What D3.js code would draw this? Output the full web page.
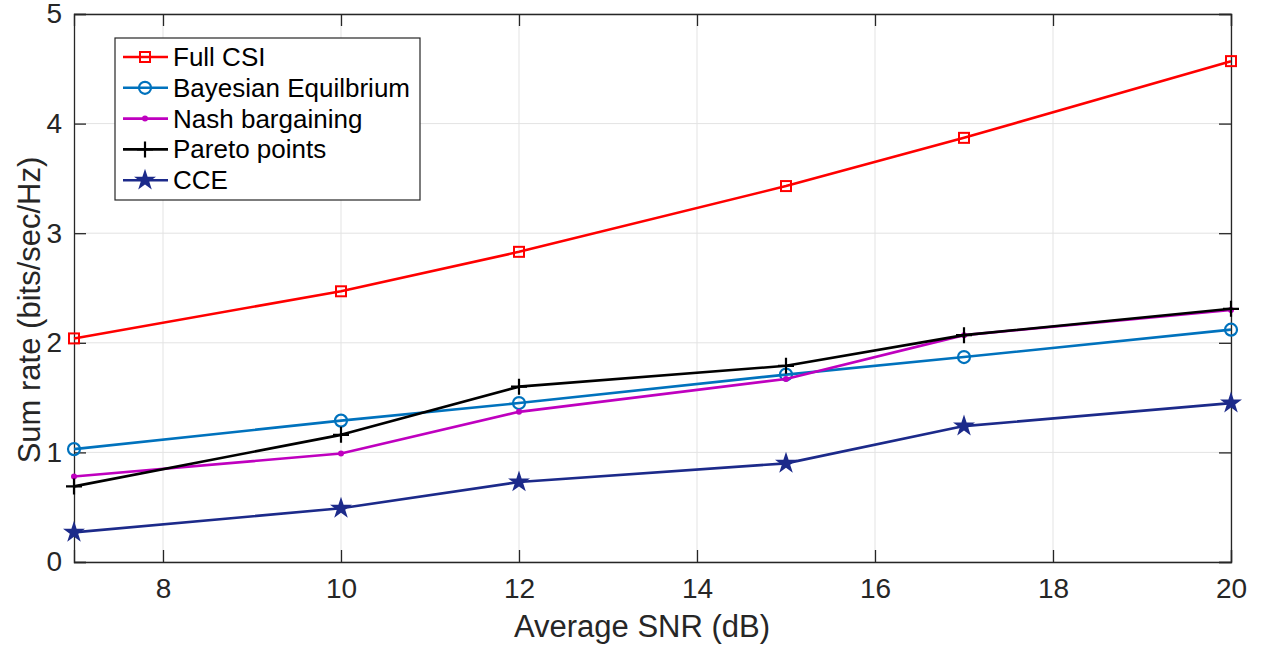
<!DOCTYPE html>
<html><head><meta charset="utf-8">
<script src="https://cdn.jsdelivr.net/npm/d3@7"></script>
<style>body{margin:0;background:#fff}svg{display:block}text{font-family:"Liberation Sans",Arial,sans-serif}</style>
</head><body><svg id="c" width="1263" height="650"></svg>
<script>
const snr = [7, 10, 12, 15, 17, 20];
const fullCSI = [2.04, 2.47, 2.83, 3.43, 3.87, 4.57];
const bayesian = [1.03, 1.29, 1.45, 1.71, 1.87, 2.12];
const nash = [0.78, 0.99, 1.37, 1.67, 2.07, 2.30];
const pareto = [0.69, 1.16, 1.60, 1.79, 2.07, 2.31];
const cce = [0.27, 0.49, 0.73, 0.90, 1.24, 1.45];
const xTicks = [8, 10, 12, 14, 16, 18, 20];
const yTicks = [0, 1, 2, 3, 4, 5];
const seriesNames = ["Full CSI", "Bayesian Equilbrium", "Nash bargaining", "Pareto points", "CCE"];

const series = [
  {name: seriesNames[0], vals: fullCSI, color: "#ff0000", marker: "square"},
  {name: seriesNames[1], vals: bayesian, color: "#0072bd", marker: "circle"},
  {name: seriesNames[2], vals: nash, color: "#bf00bf", marker: "dot"},
  {name: seriesNames[3], vals: pareto, color: "#000000", marker: "plus"},
  {name: seriesNames[4], vals: cce, color: "#1c2a8a", marker: "star"}
];

const svg = d3.select("#c");
const L = 74, R = 1231, T = 14, B = 562;
const x = d3.scaleLinear().domain([7, 20]).range([L, R]);
const y = d3.scaleLinear().domain([0, 5]).range([B, T]);

// grid
svg.append("g").selectAll("line").data(xTicks).join("line")
  .attr("x1", d => x(d)).attr("x2", d => x(d)).attr("y1", T).attr("y2", B)
  .attr("stroke", "#e3e3e3").attr("stroke-width", 1);
svg.append("g").selectAll("line").data(yTicks).join("line")
  .attr("x1", L).attr("x2", R).attr("y1", d => y(d)).attr("y2", d => y(d))
  .attr("stroke", "#e3e3e3").attr("stroke-width", 1);

// axes
const ax = svg.append("g").attr("transform", `translate(0,${B})`)
  .call(d3.axisBottom(x).tickValues(xTicks).tickSize(-12).tickPadding(16).tickFormat(d3.format("d")));
const axT = svg.append("g").attr("transform", `translate(0,${T})`)
  .call(d3.axisTop(x).tickValues(xTicks).tickSize(-12).tickFormat(""));
const ay = svg.append("g").attr("transform", `translate(${L},0)`)
  .call(d3.axisLeft(y).tickValues(yTicks).tickSize(-12).tickPadding(12).tickFormat(d3.format("d")));
const ayR = svg.append("g").attr("transform", `translate(${R},0)`)
  .call(d3.axisRight(y).tickValues(yTicks).tickSize(-12).tickFormat(""));
[ax, axT, ay, ayR].forEach(g => {
  g.select(".domain").attr("stroke", "#262626").attr("stroke-width", 1.3);
  g.selectAll(".tick line").attr("stroke", "#262626").attr("stroke-width", 1.3);
  g.selectAll("text").attr("font-size", 28).attr("fill", "#262626");
});

// labels
svg.append("text").attr("x", 642).attr("y", 637).attr("text-anchor", "middle")
  .attr("font-size", 31).attr("fill", "#262626").text("Average SNR (dB)");
svg.append("text").attr("transform", `translate(40,310) rotate(-90)`)
  .attr("text-anchor", "middle").attr("font-size", 31).attr("fill", "#262626").text("Sum rate (bits/sec/Hz)");

const line = d3.line().x((d, i) => x(snr[i])).y(d => y(d));

function drawMarker(g, type, color, cx, cy) {
  if (type === "square") {
    g.append("rect").attr("x", cx - 5).attr("y", cy - 5).attr("width", 10).attr("height", 10)
      .attr("fill", "none").attr("stroke", color).attr("stroke-width", 2);
  } else if (type === "circle") {
    g.append("circle").attr("cx", cx).attr("cy", cy).attr("r", 6)
      .attr("fill", "none").attr("stroke", color).attr("stroke-width", 2.2);
  } else if (type === "dot") {
    g.append("circle").attr("cx", cx).attr("cy", cy).attr("r", 3).attr("fill", color);
  } else if (type === "plus") {
    g.append("path").attr("d", `M${cx - 8},${cy}H${cx + 8}M${cx},${cy - 8}V${cy + 8}`)
      .attr("stroke", color).attr("stroke-width", 2.2);
  } else if (type === "star") {
    g.append("path").attr("d", d3.symbol().type(d3.symbolStar).size(150)())
      .attr("transform", `translate(${cx},${cy})`).attr("fill", color);
  }
}

series.forEach(s => {
  const g = svg.append("g");
  g.append("path").datum(s.vals).attr("d", line).attr("fill", "none")
    .attr("stroke", s.color).attr("stroke-width", 2.6).attr("stroke-linejoin", "round");
  s.vals.forEach((v, i) => drawMarker(g, s.marker, s.color, x(snr[i]), y(v)));
});

// legend
const lg = svg.append("g");
lg.append("rect").attr("x", 115).attr("y", 38).attr("width", 305).attr("height", 162)
  .attr("fill", "#fff").attr("stroke", "#262626").attr("stroke-width", 1.2);
series.forEach((s, i) => {
  const cy = 57 + i * 30.8;
  lg.append("line").attr("x1", 123).attr("x2", 168).attr("y1", cy).attr("y2", cy)
    .attr("stroke", s.color).attr("stroke-width", 2.6);
  drawMarker(lg, s.marker, s.color, 145, cy);
  lg.append("text").attr("x", 173).attr("y", cy + 9).attr("font-size", 26)
    .attr("fill", "#000").text(s.name);
});
</script></body></html>
